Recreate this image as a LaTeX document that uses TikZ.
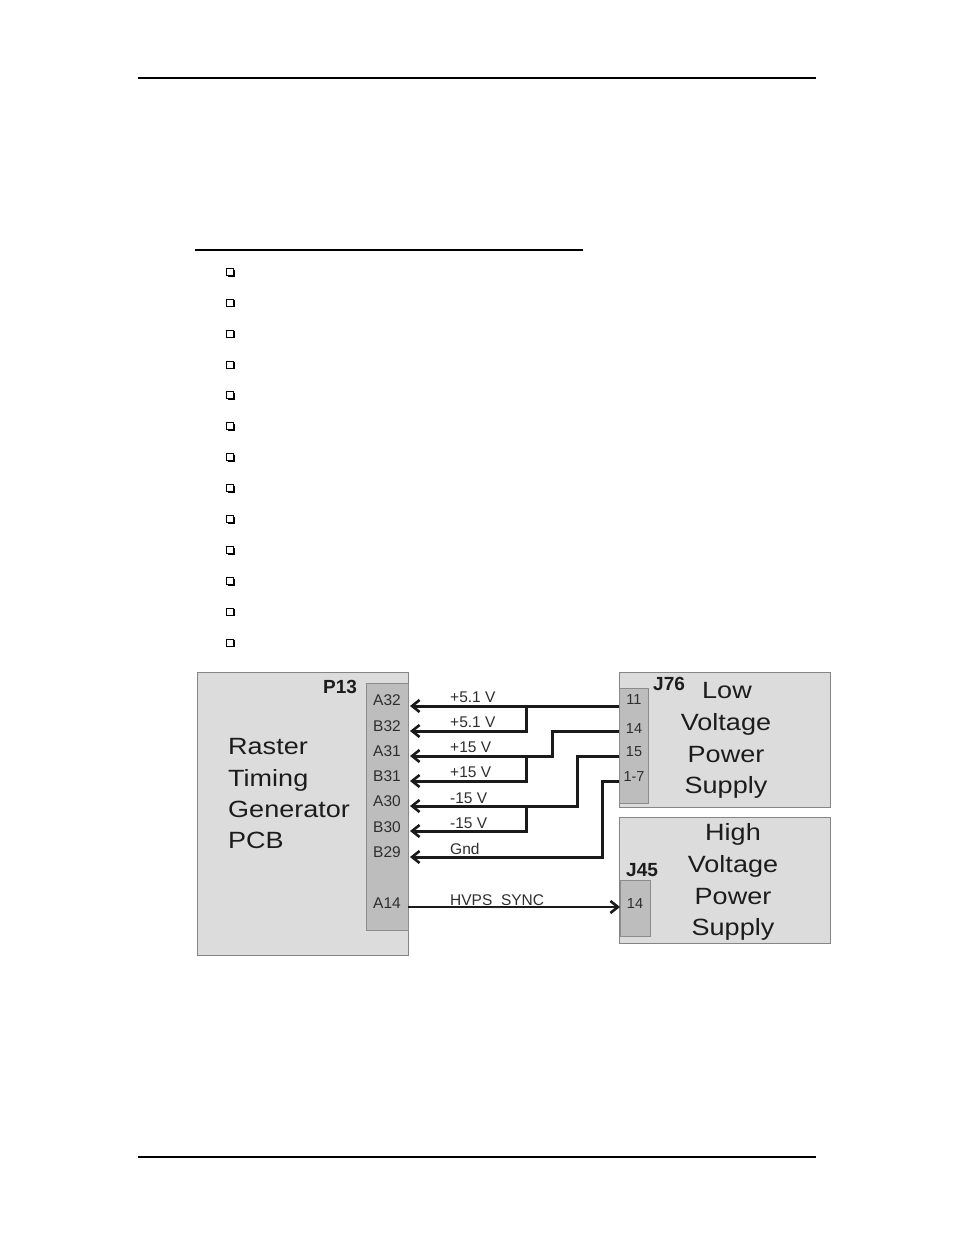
\documentclass[tikz,border=0pt]{standalone}
\usepackage{fontspec}
\setmainfont{Liberation Sans}
\newfontfamily\bigfont[FakeStretch=1.15]{Liberation Sans}
\newfontfamily\boldfont{Liberation Sans Bold}
\usetikzlibrary{arrows.meta,shadows}
\definecolor{boxfill}{HTML}{DCDCDC}
\definecolor{boxline}{HTML}{858585}
\definecolor{connfill}{HTML}{BDBDBD}
\definecolor{connline}{HTML}{8C8C8C}
\definecolor{wirec}{HTML}{1A1A1A}
\definecolor{labc}{HTML}{2E2E2E}
\definecolor{bigc}{HTML}{1C1C1C}
\begin{document}
\begin{tikzpicture}[x=1pt,y=-1pt,
  box/.style={draw=boxline, fill=boxfill, line width=1.3pt, rectangle, inner sep=0pt, anchor=north west},
  conn/.style={draw=connline, fill=connfill, line width=1pt, rectangle, inner sep=0pt, anchor=north west},
  wire/.style={draw=wirec, line width=3pt, -{Straight Barb[length=7.5pt,width=12pt,line width=2.6pt]}},
  wiresync/.style={draw=wirec, line width=2.5pt, -{Straight Barb[length=7.5pt,width=12pt,line width=2.6pt]}},
  bigtext/.style={font=\bigfont\fontsize{23.5}{28}\selectfont, text=bigc, inner sep=0pt},
  boldlab/.style={font=\boldfont\fontsize{19}{22}\selectfont, text=bigc, inner sep=0pt, anchor=base west},
  pinlab/.style={font=\fontsize{15.5}{18}\selectfont, text=labc, inner sep=0pt, anchor=base},
  jpinlab/.style={font=\fontsize{14.5}{16}\selectfont, text=labc, inner sep=0pt, anchor=base},
  wirelab/.style={font=\fontsize{15.5}{18}\selectfont, text=labc, inner sep=0pt, anchor=base west},
  chk/.style={draw=black, fill=white, line width=0.8pt, minimum size=7pt, inner sep=0pt, rectangle,
    drop shadow={shadow xshift=1.3pt, shadow yshift=-1.3pt, fill=black, opacity=1}}
]
\fill[white] (0,0) rectangle (954,1235);
\useasboundingbox (0,0) rectangle (954,1235);

% page rules
\draw[line width=2.5pt] (138,78) -- (816,78);
\draw[line width=1.2pt] (138,1157) -- (816,1157);
\draw[line width=2pt] (195,250) -- (583,250);

% checkbox bullets
\foreach \i in {0,...,12}
  \node[chk] (cb\i) at (230, 271.7+30.9*\i) {};

% boxes
\node[box, minimum width=211pt, minimum height=283pt] (rtg) at (197,672) {};
\node[conn, minimum width=42pt, minimum height=247pt] (p13) at (366,683) {};
\node[box, minimum width=211pt, minimum height=135pt] (lvps) at (619,672) {};
\node[conn, minimum width=29pt, minimum height=115pt] (j76) at (619,688) {};
\node[box, minimum width=211pt, minimum height=126pt] (hvps) at (619,817) {};
\node[conn, minimum width=30pt, minimum height=56pt] (j45) at (620,880) {};

% big texts
\node[bigtext, anchor=base west] (rt1) at (228,754) {Raster};
\node[bigtext, anchor=base west] (rt2) at (228,786) {Timing};
\node[bigtext, anchor=base west] (rt3) at (228,817) {Generator};
\node[bigtext, anchor=base west] (rt4) at (228,848) {PCB};
\node[bigtext, anchor=base] (lv1) at (727,698) {Low};
\node[bigtext, anchor=base] (lv2) at (726,730) {Voltage};
\node[bigtext, anchor=base] (lv3) at (726,762) {Power};
\node[bigtext, anchor=base] (lv4) at (726,793) {Supply};
\node[bigtext, anchor=base] (hv1) at (733,840) {High};
\node[bigtext, anchor=base] (hv2) at (733,872) {Voltage};
\node[bigtext, anchor=base] (hv3) at (733,904) {Power};
\node[bigtext, anchor=base] (hv4) at (733,935) {Supply};

% connector names
\node[boldlab] (lp13) at (323,693) {P13};
\node[boldlab] (lj76) at (653,690) {J76};
\node[boldlab] (lj45) at (626,876) {J45};

% P13 pin labels
\node[pinlab] (nA32) at (387,705) {A32};
\node[pinlab] (nB32) at (387,731) {B32};
\node[pinlab] (nA31) at (387,756) {A31};
\node[pinlab] (nB31) at (387,781) {B31};
\node[pinlab] (nA30) at (387,806) {A30};
\node[pinlab] (nB30) at (387,832) {B30};
\node[pinlab] (nB29) at (387,857) {B29};
\node[pinlab] (nA14) at (387,908) {A14};

% J76 / J45 pin labels
\node[jpinlab] (m11) at (634,704) {11};
\node[jpinlab] (m14) at (634,733) {14};
\node[jpinlab] (m15) at (634,756) {15};
\node[jpinlab] (m17) at (634,781) {1-7};
\node[jpinlab] (k14) at (635,908) {14};

% wire end points
\coordinate (pA32) at (410,706);
\coordinate (pB32) at (410,731);
\coordinate (pA31) at (410,756);
\coordinate (pB31) at (410,781);
\coordinate (pA30) at (410,806);
\coordinate (pB30) at (410,831);
\coordinate (pB29) at (410,857);
\coordinate (pA14) at (408,907);
\coordinate (j11) at (619,706);
\coordinate (j14) at (619,731);
\coordinate (j15) at (619,756);
\coordinate (j17) at (619,781);
\coordinate (jh14) at (620,907);
\coordinate (t14) at (552,731);
\coordinate (t15) at (577,756);
\coordinate (t17) at (602,781);
\coordinate (b1) at (526,706);
\coordinate (b2) at (526,756);
\coordinate (b3) at (526,806);

% wires
\draw[wire] (j11) -- (pA32);
\draw[wire] (b1) |- (pB32);
\draw[wire] (j14) -- (t14) |- (pA31);
\draw[wire] (b2) |- (pB31);
\draw[wire] (j15) -- (t15) |- (pA30);
\draw[wire] (b3) |- (pB30);
\draw[wire] (j17) -- (t17) |- (pB29);
\draw[wiresync] (pA14) -- (jh14);

% wire labels
\node[wirelab] (w1) at (450,702) {+5.1 V};
\node[wirelab] (w2) at (450,727) {+5.1 V};
\node[wirelab] (w3) at (450,752) {+15 V};
\node[wirelab] (w4) at (450,777) {+15 V};
\node[wirelab] (w5) at (450,803) {-15 V};
\node[wirelab] (w6) at (450,828) {-15 V};
\node[wirelab] (w7) at (450,854) {Gnd};
\node[wirelab] (w8) at (450,905) {HVPS\_SYNC};
\end{tikzpicture}
\end{document}
